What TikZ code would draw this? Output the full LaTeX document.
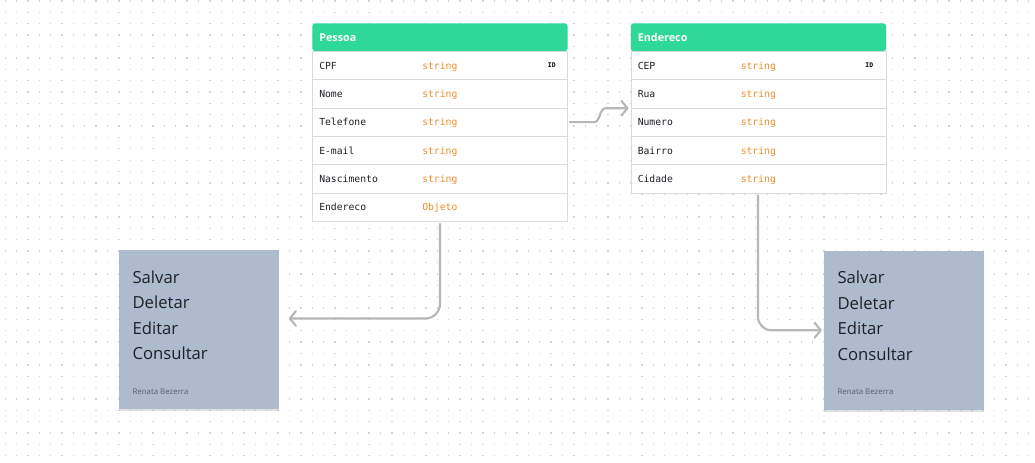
\documentclass[tikz,border=0pt]{standalone}
\usepackage{fontspec}
\setmainfont{Open Sans}
\newfontfamily\monofont{DejaVu Sans Mono}
\usepackage{tikz}
\usetikzlibrary{arrows.meta}
\usetikzlibrary{calc}
\usetikzlibrary{shadows}

\definecolor{headgreen}{RGB}{46,216,151}
\definecolor{typeorange}{RGB}{242,140,40}
\definecolor{rowline}{RGB}{218,218,218}
\definecolor{notefill}{RGB}{174,187,207}
\definecolor{linkgray}{RGB}{183,183,183}
\definecolor{dotgray}{RGB}{212,212,212}
\definecolor{inktext}{RGB}{30,32,38}
\definecolor{signgray}{RGB}{88,94,108}

\begin{document}
\begin{tikzpicture}[x=0.75pt,y=-0.75pt,
  >/.tip={Straight Barb[length=4.5pt,width=11pt,round]},
  head/.style={fill=headgreen,rounded corners=2.25pt,anchor=north west,
    minimum height=21pt,text width=181pt,inner xsep=5.25pt,align=left,
    text=white,font=\bfseries\fontsize{8.1}{9}\selectfont},
  row/.style={draw=rowline,fill=white,anchor=north west,minimum height=21.25pt,
    text width=181pt,inner xsep=5.25pt,align=left,text height=6pt,
    text depth=0.5pt,text=inktext,font=\monofont\fontsize{7.3}{9}\selectfont},
  ftype/.style={anchor=west,inner xsep=0pt,text height=6pt,text depth=0.5pt,
    text=typeorange,font=\monofont\fontsize{7.3}{9}\selectfont},
  idtag/.style={anchor=east,inner sep=0pt,text=black,
    font=\monofont\bfseries\fontsize{4.8}{6}\selectfont},
  note/.style={fill=notefill,anchor=north west,minimum width=120pt,
    minimum height=119.25pt,inner sep=0pt,
    drop shadow={shadow xshift=0pt,shadow yshift=-1.5pt,opacity=0.12,fill=black}},
  verb/.style={anchor=base west,inner sep=0pt,text=inktext,
    font=\fontsize{12.5}{14}\selectfont},
  sign/.style={anchor=base west,inner sep=0pt,text=signgray,
    font=\fontsize{5.9}{7}\selectfont},
  link/.style={draw=linkgray,line width=1.6pt,line cap=round}]
\useasboundingbox[fill=white] (0,0) rectangle (1035,462);
% dotted canvas
\foreach \r in {0,...,40}
	\draw[dotgray,line width=1pt,dash pattern=on 1pt off 7.53pt] (4.5,{1+11.37*\r}) -- (1035,{1+11.37*\r});

% table Pessoa
\draw (312,23) node[head] (pessoa) {Pessoa};
\foreach \f/\t [count=\i] in {CPF/string,Nome/string,Telefone/string,E-mail/string,Nascimento/string,Endereco/Objeto}
{
	\draw (312,{51+28.33*(\i-1)}) node[row] (p\i) {\f};
	\draw ($(p\i.west)+(110,0)$) node[ftype] (pt\i) {\t};
}
\draw ($(p1.east)+(-12,0)$) node[idtag] (pid) {ID};

% table Endereco
\draw (630.5,23) node[head] (endereco) {Endereco};
\foreach \f/\t [count=\i] in {CEP/string,Rua/string,Numero/string,Bairro/string,Cidade/string}
{
	\draw (630.5,{51+28.33*(\i-1)}) node[row] (e\i) {\f};
	\draw ($(e\i.west)+(110,0)$) node[ftype] (et\i) {\t};
}
\draw ($(e1.east)+(-13,0)$) node[idtag] (eid) {ID};

% notes
\draw (118.3,250) node[note] (nl) {};
\draw (823.3,250.5) node[note] (nr) {};
\foreach \b in {nl,nr}
{
	\foreach \w [count=\k] in {Salvar,Deletar,Editar,Consultar}
		\draw ($(\b.north west)+(14,{33+25.5*(\k-1)})$) node[verb] (\b\k) {\w};
	\draw ($(\b.north west)+(14,144)$) node[sign] (\b-sign) {Renata Bezerra};
}

% links
\coordinate (telout) at ($(p3.east)+(2,0)$);
\coordinate (ruain) at ($(e2.south west)+(-2,0)$);
\coordinate (s1) at ($(telout)+(24,0)$);
\path (s1 |- ruain) ++(12,0) coordinate (s2);
\draw[link,->] (telout) -- (s1) .. controls ($(s1)+(7,0)$) and ($(s2)+(-7,0)$) .. (s2) -- (ruain);
\path (nl.east) ++(10,-11.3) coordinate (nlin);
\draw[link,->,rounded corners=11pt] ($(p6.south west)+(128,2.5)$) |- (nlin);
\draw[link,->,rounded corners=10pt] ($(e5.south west)+(127.5,2)$) |- ($(nr.west)+(-1.5,0)$);
\end{tikzpicture}
\end{document}
